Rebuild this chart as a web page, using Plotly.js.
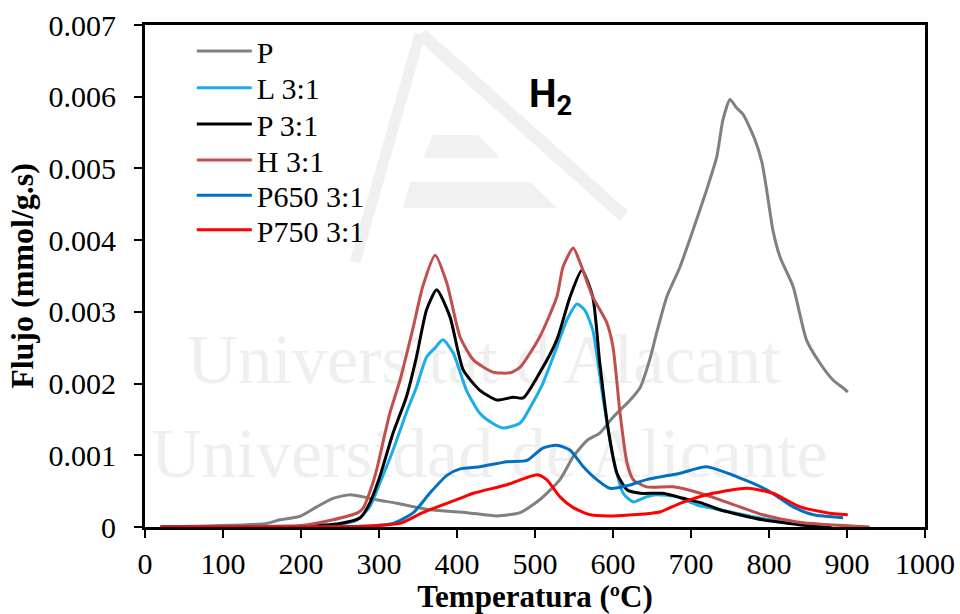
<!DOCTYPE html>
<html>
<head>
<meta charset="utf-8">
<script src="https://cdn.plot.ly/plotly-3.0.1.min.js"></script>
<style>html,body{margin:0;padding:0;background:#fff;}#chart{width:960px;height:614px;}</style>
</head>
<body>
<div id="chart"></div>
<script>
// Series names
const seriesNames = ["P", "L 3:1", "P 3:1", "H 3:1", "P650 3:1", "P750 3:1"];
const seriesColors = ["#808080", "#1AAEE8", "#000000", "#C0504D", "#0070C0", "#FF0000"];

// P (gray)
const xP = [20, 60, 100, 130, 156, 173, 199, 220, 241, 263, 280, 297, 323, 365, 413, 451, 481, 506, 532, 549, 567, 583, 600, 622, 635, 647, 656, 669, 686, 707, 720, 733, 741, 750, 758, 767, 782, 791, 797, 805, 814, 831, 848, 865, 882, 895, 901];
const yP = [0, 0.00001, 0.00002, 0.00003, 0.00005, 0.0001, 0.00015, 0.00028, 0.0004, 0.00045, 0.00042, 0.00038, 0.00033, 0.00024, 0.0002, 0.000155, 0.0002, 0.00038, 0.00066, 0.00098, 0.00121, 0.00131, 0.00153, 0.00177, 0.00195, 0.00233, 0.00271, 0.00321, 0.00363, 0.00428, 0.0047, 0.00516, 0.00568, 0.00596, 0.00585, 0.00575, 0.0054, 0.00508, 0.0047, 0.00414, 0.00377, 0.00335, 0.00261, 0.00229, 0.00205, 0.00194, 0.00188];

// L 3:1 (light blue)
const xL = [20, 100, 200, 250, 272, 288, 301, 318, 335, 348, 361, 372, 382, 395, 412, 429, 445, 459, 481, 497, 510, 528, 541, 554, 564, 574, 587, 600, 613, 626, 643, 656, 682, 707, 750, 792, 836, 858, 880];
const yL = [0, 0, 0.00001, 0.00004, 0.0001, 0.00028, 0.00061, 0.00107, 0.00159, 0.00195, 0.00237, 0.0025, 0.00261, 0.00243, 0.00191, 0.00159, 0.00145, 0.00138, 0.00145, 0.00173, 0.002, 0.00251, 0.00289, 0.00311, 0.00302, 0.00275, 0.00181, 0.00098, 0.00047, 0.00035, 0.00042, 0.00045, 0.00042, 0.00031, 0.00021, 0.00012, 0.00005, 0.00002, 0];

// P 3:1 (black)
const xP31 = [20, 100, 200, 250, 276, 288, 301, 318, 335, 348, 361, 374, 391, 408, 429, 451, 472, 485, 506, 528, 545, 560, 574, 583, 594, 605, 618, 635, 664, 690, 715, 737, 792, 858, 880];
const yP31 = [0, 0, 0.00001, 0.00005, 0.00013, 0.00033, 0.0007, 0.00131, 0.00181, 0.00237, 0.00303, 0.00331, 0.00293, 0.00219, 0.00191, 0.00177, 0.00181, 0.0018, 0.00215, 0.00261, 0.00321, 0.00358, 0.00321, 0.00229, 0.00135, 0.00075, 0.00052, 0.00047, 0.00047, 0.0004, 0.00033, 0.00024, 0.0001, 0.00001, 0];

// H 3:1 (rosy)
const xH = [20, 100, 200, 241, 273, 280, 292, 297, 314, 327, 344, 356, 372, 387, 404, 421, 446, 468, 481, 506, 528, 536, 549, 558, 574, 592, 600, 609, 618, 626, 643, 677, 712, 750, 792, 836, 878, 929];
const yH = [0, 0.00001, 0.00002, 0.0001, 0.0002, 0.00027, 0.00061, 0.0008, 0.00159, 0.00205, 0.00279, 0.00335, 0.00379, 0.0034, 0.00265, 0.00233, 0.00216, 0.00215, 0.00223, 0.00265, 0.00321, 0.00363, 0.00389, 0.00368, 0.00321, 0.00285, 0.00251, 0.00159, 0.00089, 0.00066, 0.00056, 0.00056, 0.00047, 0.00033, 0.00017, 0.00007, 0.00003, 0];

// P650 3:1 (blue)
const x650 = [20, 100, 200, 280, 318, 344, 365, 387, 404, 429, 464, 490, 510, 528, 545, 562, 575, 596, 620, 643, 686, 720, 759, 797, 831, 857, 895];
const y650 = [0, 0, 0, 0.00001, 0.00005, 0.0002, 0.00047, 0.00072, 0.00081, 0.00084, 0.00091, 0.00093, 0.0011, 0.00114, 0.00107, 0.00084, 0.0007, 0.00054, 0.00058, 0.00066, 0.00075, 0.00084, 0.0007, 0.00052, 0.00028, 0.00017, 0.00013];

// P750 3:1 (red)
const x750 = [20, 100, 200, 280, 327, 356, 387, 404, 421, 464, 503, 515, 532, 549, 571, 600, 660, 686, 728, 772, 805, 840, 874, 901];
const y750 = [0, 0, 0, 0.00001, 0.00005, 0.0002, 0.00033, 0.0004, 0.00047, 0.00059, 0.00073, 0.00066, 0.00042, 0.00027, 0.00017, 0.000155, 0.00021, 0.00033, 0.00047, 0.00054, 0.00047, 0.00028, 0.0002, 0.00017];

const xData = [xP, xL, xP31, xH, x650, x750];
const yData = [yP, yL, yP31, yH, y650, y750];

// Axis ticks
const xTickVals = [0, 100, 200, 300, 400, 500, 600, 700, 800, 900, 1000];
const yTickVals = [0, 0.001, 0.002, 0.003, 0.004, 0.005, 0.006, 0.007];
const yTickText = ["0", "0.001", "0.002", "0.003", "0.004", "0.005", "0.006", "0.007"];

const serif = "Liberation Serif, Times New Roman, serif";

// one legend per series so the row spacing can match the reference
const legendKeys = ["legend", "legend2", "legend3", "legend4", "legend5", "legend6"];
const legendY = [0.948, 0.875, 0.803, 0.731, 0.661, 0.592];

const traces = seriesNames.map((name, i) => ({
  type: "scatter",
  mode: "lines",
  name: name,
  legend: legendKeys[i],
  x: xData[i],
  y: yData[i],
  line: {color: seriesColors[i], width: 3, shape: "spline", smoothing: 0.6}
}));

// faint watermark (drawn below the traces)
const wmSvg =
  '<svg xmlns="http://www.w3.org/2000/svg" width="960" height="614" viewBox="0 0 960 614">' +
  '<g fill="none" stroke="#f0f0f0" stroke-linejoin="round">' +
  '<path d="M420 34 L355 262" stroke-width="11"/>' +
  '<path d="M421 34 L624 216" stroke-width="13"/>' +
  '</g>' +
  '<path d="M433 135 L478 135 L500 158 L423 158 Z" fill="#f1f1f1"/>' +
  '<path d="M410 182 L530 182 L557 208 L403 208 Z" fill="#f1f1f1"/>' +
  '<text x="187" y="383" font-family="Liberation Serif, Times New Roman, serif" font-size="70" fill="#efefef">Universitat d\'Alacant</text>' +
  '<text x="151" y="477" font-family="Liberation Serif, Times New Roman, serif" font-size="70" fill="#efefef">Universidad de Alicante</text>' +
  '</svg>';

const layout = {
  width: 960,
  height: 614,
  margin: {l: 145, r: 35, t: 25, b: 87},
  paper_bgcolor: "#ffffff",
  plot_bgcolor: "#ffffff",
  showlegend: true,
  xaxis: {
    range: [0, 1000],
    tickvals: xTickVals,
    ticks: "outside", ticklen: 8, tickwidth: 2, tickcolor: "#000",
    ticklabelstandoff: 0,
    showline: true, linecolor: "#000", linewidth: 3, mirror: true,
    showgrid: false, zeroline: false,
    tickfont: {family: serif, size: 30, color: "#000"},
    title: {text: "<b>Temperatura (ºC)</b>", font: {family: serif, size: 31, color: "#000"}, standoff: 6}
  },
  yaxis: {
    range: [0, 0.007],
    tickvals: yTickVals,
    ticktext: yTickText,
    ticks: "outside", ticklen: 8, tickwidth: 2, tickcolor: "#000",
    ticklabelstandoff: 12,
    showline: true, linecolor: "#000", linewidth: 3, mirror: true,
    showgrid: false, zeroline: false,
    tickfont: {family: serif, size: 30, color: "#000"},
    title: {text: "<b>Flujo (mmol/g.s)</b>", font: {family: serif, size: 32, color: "#000"}, standoff: 6}
  },
  images: [{
    source: "data:image/svg+xml;charset=utf-8," + encodeURIComponent(wmSvg),
    xref: "paper", yref: "paper",
    x: -145 / 780, y: 1 + 25 / 502, sizex: 960 / 780, sizey: 614 / 502,
    xanchor: "left", yanchor: "top", sizing: "stretch", layer: "below"
  }],
  annotations: [
    {xref: "paper", yref: "paper", x: 0.52, y: 0.858, text: "<b>H<sub>2</sub></b>", showarrow: false,
     font: {family: "Roboto, Open Sans, sans-serif", size: 39, color: "#000"}, xanchor: "center", yanchor: "middle"}
  ]
};

legendKeys.forEach((k, i) => {
  layout[k] = {
    x: 0.06, y: legendY[i], xanchor: "left", yanchor: "middle",
    bgcolor: "rgba(0,0,0,0)", borderwidth: 0,
    font: {family: serif, size: 30, color: "#000"},
    itemwidth: 55
  };
});

Plotly.newPlot("chart", traces, layout, {displayModeBar: false, staticPlot: true});
</script>
</body>
</html>
